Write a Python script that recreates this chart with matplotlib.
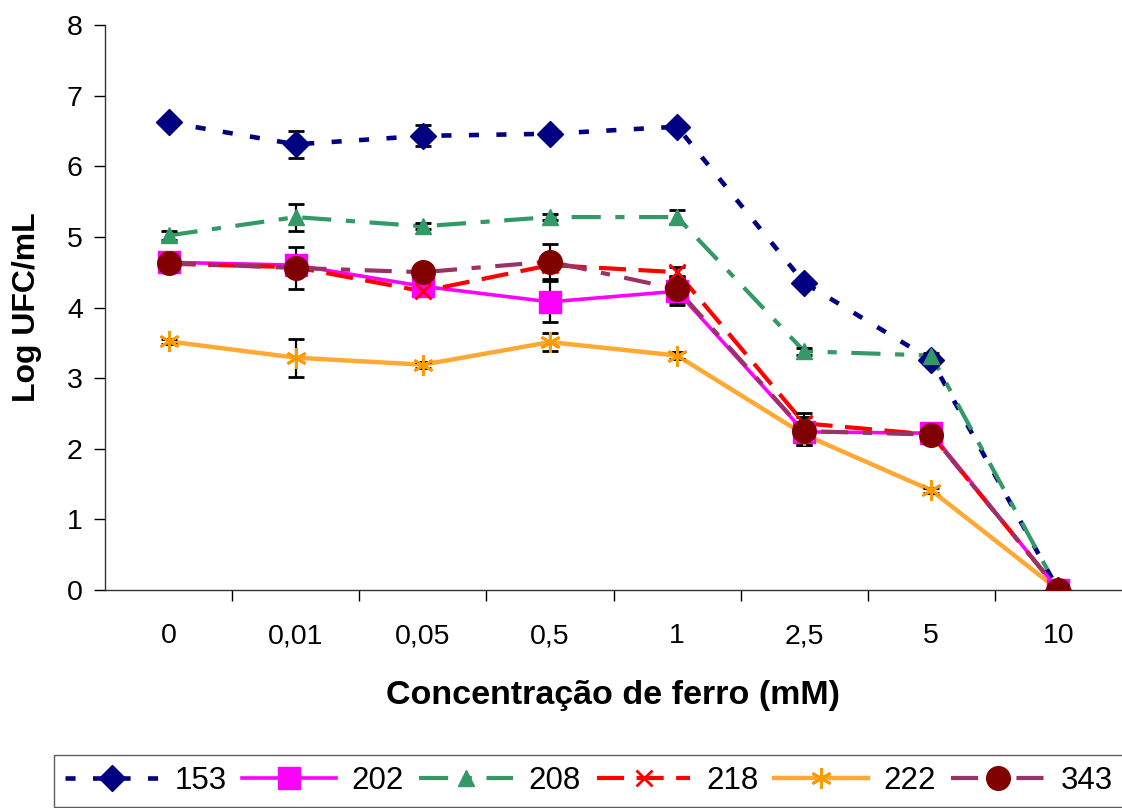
import numpy as np
import matplotlib
matplotlib.use("Agg")
import matplotlib.pyplot as plt

plt.rcParams['font.family'] = ['Liberation Sans', 'DejaVu Sans']

# concentracoes (mM) e medias Log UFC/mL por isolado
categories = ["0", "0,01", "0,05", "0,5", "1", "2,5", "5", "10"]
s153 = [6.62, 6.31, 6.43, 6.46, 6.56, 4.35, 3.26, 0.0]
s202 = [4.64, 4.60, 4.30, 4.08, 4.23, 2.24, 2.22, 0.0]
s208 = [5.02, 5.28, 5.15, 5.28, 5.28, 3.38, 3.32, 0.0]
s218 = [4.62, 4.57, 4.23, 4.60, 4.50, 2.36, 2.20, 0.0]
s222 = [3.52, 3.29, 3.19, 3.51, 3.32, 2.20, 1.41, 0.0]
s343 = [4.63, 4.56, 4.50, 4.65, 4.26, 2.25, 2.20, 0.0]

# desvios (barras de erro)
e153 = [0.04, 0.19, 0.15, 0.04, 0.04, 0.03, 0.04, 0.0]
e202 = [0.04, 0.05, 0.05, 0.29, 0.20, 0.10, 0.03, 0.0]
e208 = [0.07, 0.19, 0.04, 0.04, 0.10, 0.05, 0.04, 0.0]
e218 = [0.04, 0.04, 0.04, 0.04, 0.08, 0.15, 0.03, 0.0]
e222 = [0.04, 0.27, 0.04, 0.13, 0.05, 0.15, 0.03, 0.0]
e343 = [0.04, 0.30, 0.04, 0.25, 0.18, 0.20, 0.03, 0.0]

labels = ["153", "202", "208", "218", "222", "343"]

series = [
    # values, errors, line colour, lw, marker, marker colour, ms, mew, dashes
    (s153, e153, '#000080', 3.3, 'D', '#000080', 13.5, 1, (0, (2.2, 3.8))),
    (s202, e202, '#FF00FF', 2.6, 's', '#FF00FF', 16, 1, '-'),
    (s208, e208, '#339966', 3.0, '^', '#339966', 12, 1, (0, (7, 3.5, 2.2, 3.5))),
    (s218, e218, '#FF0000', 3.0, 'x', '#FF0000', 12, 2, (0, (6.5, 3))),
    (s222, e222, '#FFA833', 3.2, (6, 2, 0), '#FF9900', 15, 2, '-'),
    (s343, e343, '#993366', 3.0, 'o', '#800000', 17, 1, (0, (6.5, 3.5, 2.2, 3.5))),
]

fig = plt.figure(figsize=(11.22, 8.08), dpi=100)
ax = fig.add_axes([105 / 1122, 1 - 590 / 808, 1 - 105 / 1122, (590 - 25) / 808])

x = np.arange(len(categories))
handles = []
for (vals, errs, lc, lw, mk, mc, ms, mew, ls), lab in zip(series, labels):
    ax.plot(x, vals, color=lc, lw=lw, linestyle=ls, zorder=2)
    ax.errorbar(x, vals, yerr=errs, fmt='none', ecolor='black', elinewidth=1.6,
                capsize=6, capthick=2, zorder=3)
    ax.plot(x, vals, linestyle='none', marker=mk, ms=ms, mfc=mc, mec=mc,
            mew=mew, zorder=4)
    h, = ax.plot([], [], color=lc, lw=lw, linestyle=ls, marker=mk, ms=ms,
                 mfc=mc, mec=mc, mew=mew)
    handles.append(h)

ax.set_xlim(-0.5, len(categories) - 0.5)
ax.set_ylim(0, 8)
ax.set_yticks(range(0, 9))
ax.set_xticks(x)
ax.set_xticklabels(categories)
ax.set_xticks(np.arange(0.5, len(categories) - 0.5), minor=True)
ax.tick_params(axis='x', which='major', length=0, pad=24, labelsize=20.5)
ax.tick_params(axis='x', which='minor', length=8, width=1, direction='out')
ax.tick_params(axis='y', length=8, width=1, direction='out', pad=8, labelsize=20.5)

for side in ['top', 'right']:
    ax.spines[side].set_visible(False)
for side in ['left', 'bottom']:
    ax.spines[side].set_linewidth(1)
    ax.spines[side].set_color('#333333')

ax.set_ylabel("Log UFC/mL", fontsize=23, fontweight='bold', labelpad=18)
ax.set_xlabel("Concentração de ferro (mM)", fontsize=24.5, fontweight='bold', labelpad=22)

leg = fig.legend(handles, labels, loc='upper left', bbox_to_anchor=(54 / 1122, 1 - 755 / 808),
                 ncol=6, fontsize=22.5, frameon=True, fancybox=False, edgecolor='#333333',
                 handlelength=3.0, handletextpad=0.5, columnspacing=0.5,
                 borderpad=0.35, borderaxespad=0)
leg.get_frame().set_linewidth(1)

fig.savefig("out.png", dpi=100)
